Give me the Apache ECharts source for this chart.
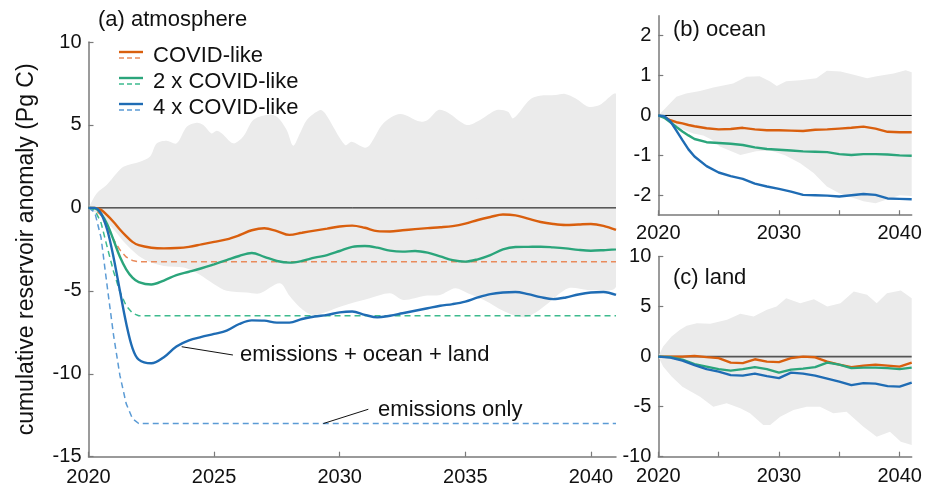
<!DOCTYPE html>
<html><head><meta charset="utf-8">
<script src="https://cdn.jsdelivr.net/npm/echarts@6/dist/echarts.min.js"></script>
<style>html,body{margin:0;padding:0;background:#fff}#c{width:932px;height:489px}</style>
</head><body><div id="c"></div>
<script>
// ---------- Panel (a) atmosphere ----------
const atmYears = [2020,2020.25,2020.5,2020.75,2021,2021.25,2021.5,2021.75,2022,2022.5,2023,2023.5,2024,2024.5,2025,2025.5,2026,2026.5,2027,2027.5,2028,2028.5,2029,2029.5,2030,2030.5,2031,2031.5,2032,2032.5,2033,2033.5,2034,2034.5,2035,2035.5,2036,2036.5,2037,2037.5,2038,2038.5,2039,2039.5,2040,2040.5,2041];
const atmCovid = [0,0,-0.12,-0.45,-0.85,-1.3,-1.7,-2.05,-2.25,-2.4,-2.44,-2.42,-2.35,-2.2,-2.05,-1.9,-1.65,-1.35,-1.23,-1.4,-1.63,-1.5,-1.37,-1.25,-1.12,-1.07,-1.2,-1.4,-1.42,-1.35,-1.28,-1.22,-1.17,-1.1,-0.95,-0.73,-0.55,-0.4,-0.45,-0.65,-0.85,-0.97,-1.03,-1.0,-0.97,-1.08,-1.33];
const atm2x = [0,-0.02,-0.35,-1.0,-1.95,-2.95,-3.7,-4.2,-4.47,-4.62,-4.38,-4.05,-3.85,-3.64,-3.4,-3.15,-2.9,-2.72,-2.95,-3.2,-3.3,-3.2,-3.0,-2.85,-2.6,-2.35,-2.3,-2.4,-2.58,-2.64,-2.6,-2.7,-2.92,-3.15,-3.24,-3.1,-2.85,-2.5,-2.36,-2.35,-2.34,-2.38,-2.44,-2.53,-2.58,-2.55,-2.5];
const atm4x = [0,0,-0.35,-1.35,-3.0,-5.0,-6.95,-8.45,-9.15,-9.37,-9.0,-8.35,-7.98,-7.78,-7.6,-7.4,-7.0,-6.78,-6.8,-6.92,-6.92,-6.7,-6.55,-6.45,-6.3,-6.25,-6.45,-6.6,-6.5,-6.35,-6.2,-6.05,-5.9,-5.8,-5.65,-5.4,-5.2,-5.1,-5.07,-5.2,-5.38,-5.5,-5.4,-5.22,-5.1,-5.07,-5.25];
// emissions only (dashed)
const emisYears = [2020,2020.25,2020.5,2020.75,2021,2021.25,2021.5,2021.75,2022,2041];
const emisCovid = [0,-0.07,-0.45,-1.2,-1.92,-2.53,-2.96,-3.17,-3.25,-3.25];
const emis2x = [0,-0.13,-0.9,-2.4,-3.85,-5.05,-5.9,-6.35,-6.5,-6.5];
const emis4x = [0,-0.26,-1.8,-4.8,-7.7,-10.1,-11.8,-12.7,-13.0,-13.0];
// spread band
const atmBandUpYears = [2020,2020.33,2020.72,2021.12,2021.39,2022.05,2022.45,2022.72,2023.11,2023.51,2023.91,2024.31,2024.57,2024.9,2025.1,2025.3,2025.77,2026.16,2026.56,2027.09,2027.5,2027.89,2028.15,2028.42,2028.69,2029.22,2029.42,2030.21,2030.48,2031.0,2031.2,2031.74,2032.4,2033.2,2033.5,2033.93,2034.3,2035.06,2035.59,2036.25,2036.7,2036.91,2037.58,2037.97,2038.6,2038.97,2039.4,2039.9,2040.35,2041];
const atmBandUp = [0,0.88,1.38,2.09,2.48,2.78,3.09,3.89,4.05,3.89,4.89,5.13,5.0,4.49,4.65,4.5,3.89,4.3,5.3,5.6,5.5,4.7,3.75,4.5,5.3,5.9,5.7,3.79,3.99,3.63,3.79,5.1,5.66,5.2,5.3,5.9,5.75,5.0,5.3,5.9,5.8,5.4,6.54,6.76,6.8,6.87,6.6,6.1,6.2,6.85];
const atmBandLoYears = [2020,2020.5,2021,2021.5,2022,2022.5,2023,2023.8,2024.4,2025,2025.5,2026.3,2026.83,2027.62,2028.0,2028.42,2028.9,2029.4,2030.14,2031.2,2032.0,2032.53,2033.4,2034.0,2034.6,2035.1,2035.8,2036.5,2037.3,2037.8,2038.3,2039.1,2039.9,2041];
const atmBandLo = [0,-0.5,-1.3,-2.2,-2.9,-3.3,-3.5,-3.6,-4.0,-4.6,-5.0,-5.1,-5.15,-4.55,-5.3,-6.0,-6.45,-6.3,-5.9,-5.45,-5.15,-5.55,-5.3,-5.25,-4.85,-5.15,-5.6,-6.2,-6.6,-6.3,-5.75,-4.85,-4.95,-4.75];
// annotations (data units)
const annotSolidLeader = [[2023.71,-8.37],[2025.75,-8.87]];
const annotSolidText = [2026.03,-8.87];
const annotEmisLeader = [[2029.35,-13.0],[2031.14,-12.14]];
const annotEmisText = [2031.53,-12.2];

// ---------- Panel (b) ocean ----------
const oceanYears = [2020,2020.5,2021,2021.5,2022,2022.5,2023,2024,2025,2026,2027,2028,2029,2030,2031,2032,2033,2034,2035,2036,2037,2038,2039,2040,2041];
const oceanCovid = [0,-0.04,-0.12,-0.17,-0.2,-0.24,-0.27,-0.32,-0.35,-0.34,-0.31,-0.35,-0.37,-0.37,-0.38,-0.39,-0.36,-0.35,-0.33,-0.31,-0.28,-0.33,-0.41,-0.42,-0.42];
const ocean2x = [0,-0.06,-0.17,-0.29,-0.4,-0.5,-0.59,-0.67,-0.69,-0.71,-0.74,-0.8,-0.84,-0.86,-0.88,-0.9,-0.91,-0.92,-0.97,-0.99,-0.97,-0.97,-0.98,-1.0,-1.01];
const ocean4x = [0,-0.02,-0.15,-0.38,-0.62,-0.85,-1.03,-1.27,-1.43,-1.52,-1.59,-1.71,-1.78,-1.84,-1.91,-1.99,-2.0,-2.01,-2.03,-2.0,-1.97,-1.99,-2.08,-2.09,-2.1];
const oceanBandUpYears = [2020,2020.7,2021.5,2022.3,2023.46,2024.56,2026.2,2027.3,2028.4,2029.27,2029.82,2030.6,2031.76,2033.1,2033.97,2035.1,2036.2,2037.3,2038.1,2039.5,2040.5,2041];
const oceanBandUp = [0,0.22,0.47,0.55,0.61,0.7,0.8,0.97,0.98,0.85,0.74,0.86,0.88,0.93,1.12,1.1,1.02,0.93,0.98,1.05,1.13,1.08];
const oceanBandLoYears = [2020,2020.7,2021.8,2022.9,2023.73,2024.4,2025.1,2026.8,2028.1,2029.3,2030.5,2031.76,2032.87,2033.97,2035,2036,2037,2038,2039,2040,2041];
const oceanBandLo = [0,-0.11,-0.32,-0.45,-0.5,-0.6,-0.78,-0.99,-0.9,-0.88,-1.0,-1.2,-1.44,-1.78,-1.95,-2.05,-2.15,-2.2,-2.1,-2.0,-2.02];

// ---------- Panel (c) land ----------
const landYears = [2020,2021,2022,2023,2024,2025,2026,2027,2028,2029,2030,2031,2032,2033,2034,2035,2036,2037,2038,2039,2040,2041];
const landCovid = [0,0,0,0.07,-0.05,-0.15,-0.6,-0.65,-0.27,-0.5,-0.55,-0.15,0,-0.07,-0.5,-0.8,-1.05,-0.9,-0.8,-0.9,-1.0,-0.6];
const land2x = [0,-0.05,-0.3,-0.75,-1.0,-1.25,-1.4,-1.25,-1.05,-1.25,-1.6,-1.3,-1.2,-1.05,-0.6,-0.8,-1.15,-1.1,-1.1,-1.15,-1.25,-1.1];
const land4x = [0,-0.1,-0.4,-0.85,-1.25,-1.5,-1.85,-1.9,-1.7,-1.95,-2.15,-1.6,-1.7,-1.9,-2.2,-2.5,-2.85,-2.65,-2.7,-2.95,-3.0,-2.6];
const landBandUpYears = [2020,2020.4,2021.1,2021.8,2022.35,2023.2,2024.3,2025.7,2026.8,2027.9,2029.0,2029.8,2030.6,2031.76,2032.9,2034.0,2035.1,2036.2,2037.3,2038.1,2038.95,2040.1,2041];
const landBandUp = [0,1.0,2.0,2.67,3.07,3.33,3.27,3.67,4.27,4.0,4.67,5.0,5.83,5.33,5.73,5.0,5.33,6.5,6.17,5.33,6.33,6.6,5.83];
const landBandLoYears = [2020,2020.4,2021.1,2022,2023.46,2024.56,2025.67,2026.8,2027.6,2028.7,2029.27,2030.1,2031.2,2032.3,2033.4,2034.5,2035.6,2037.0,2038.1,2039.2,2040.1,2041];
const landBandLo = [0,-1.0,-2.0,-3.0,-4.0,-5.0,-4.67,-5.17,-5.67,-6.83,-6.83,-6.0,-5.33,-5.0,-5.0,-5.67,-5.5,-7.0,-8.0,-7.5,-8.5,-8.83];

// ---------- labels ----------
const seriesNames = ['COVID-like','2 x COVID-like','4 x COVID-like'];
const panelTitles = ['(a) atmosphere','(b) ocean','(c) land'];
const yAxisTitle = 'cumulative reservoir anomaly (Pg C)';
const atmXTicks = [2020,2025,2030,2035,2040];
const smallXTicks = [2020,2025,2030,2035,2040];
const smallXLabels = [2020,2030,2040];
const oceanYTicks = [-2,-1,0,1,2];

// ---------- styles ----------
const FONT = 'Liberation Sans, Arial, Helvetica, sans-serif';
const solidColors = ['#D95F0E','#2BA57B','#1F6CB4'];
const dashColors = ['#E98B5C','#3DBB8E','#5B9BD5'];
const bandColor = '#EBEBEB';
const axisColor = '#7a7a7a';
const textColor = '#111';

function pairs(xs, ys){ return xs.map((x,i)=>[x, ys[i]]); }

function bandSeries(idx, upX, upY, loX, loY, smooth){
  return {
    type:'custom', xAxisIndex:idx, yAxisIndex:idx, silent:true, z:1, clip:true,
    data:[[upX[0], upY[0]]],
    renderItem:(params, api)=>{
      const up=[], lo=[];
      for(let i=0;i<upX.length;i++) up.push(api.coord([upX[i], upY[i]]));
      for(let i=0;i<loX.length;i++) lo.push(api.coord([loX[i], loY[i]]));
      const cs = params.coordSys;
      const children = [];
      if (smooth) {
        // smooth upper and lower edges separately, then close with the right edge
        children.push({type:'polygon', shape:{points:up.concat([[up[up.length-1][0], api.coord([2041,0])[1]],[up[0][0], api.coord([2020,0])[1]]]), smooth:smooth, smoothConstraint:[[cs.x,cs.y],[cs.x+cs.width,cs.y+cs.height]]}, style:{fill:bandColor}});
        children.push({type:'polygon', shape:{points:lo.concat([[lo[lo.length-1][0], api.coord([2041,0])[1]],[lo[0][0], api.coord([2020,0])[1]]]), smooth:smooth, smoothConstraint:[[cs.x,cs.y],[cs.x+cs.width,cs.y+cs.height]]}, style:{fill:bandColor}});
        return {type:'group', children:children,
          clipPath:{type:'rect', shape:{x:cs.x, y:cs.y, width:cs.width, height:cs.height}}};
      }
      const pts = up.concat(lo.reverse());
      return {type:'polygon', shape:{points:pts}, style:{fill:bandColor, stroke:null}};
    }
  };
}
function lineSeries(idx, xs, ys, color, opts){
  return Object.assign({
    type:'line', xAxisIndex:idx, yAxisIndex:idx, data:pairs(xs,ys), showSymbol:false, symbol:'none',
    silent:true, z:4, lineStyle:{color:color, width:2.4}, animation:false
  }, opts||{});
}
function zeroSeries(idx, xmin, xmax, color, width){
  return {type:'line', xAxisIndex:idx, yAxisIndex:idx, data:[[xmin,0],[xmax,0]], symbol:'none', silent:true, z:3,
    lineStyle:{color:color, width:width}, animation:false};
}
const yearFmt = v => String(Math.round(v));

function xAxisCfg(idx, ticks, labels, margin){
  return {
    gridIndex:idx, type:'value', min:2020, max:2041, interval:5,
    axisLine:{show:true, onZero:false, lineStyle:{color:axisColor, width:1.5}},
    axisTick:{show:true, inside:true, length:5, customValues:ticks, lineStyle:{color:axisColor, width:1.2}},
    axisLabel:{customValues:labels, formatter:yearFmt, fontSize:20, color:textColor, fontFamily:FONT, margin:margin},
    splitLine:{show:false}
  };
}
function yAxisCfg(idx, min, max, interval, ticks, extra){
  const cfg = {
    gridIndex:idx, type:'value', min:min, max:max, interval:interval,
    axisLine:{show:true, onZero:false, lineStyle:{color:axisColor, width:1.5}},
    axisTick:{show:true, inside:true, length:5, lineStyle:{color:axisColor, width:1.2}},
    axisLabel:{fontSize:20, color:textColor, fontFamily:FONT, margin:7},
    splitLine:{show:false}
  };
  if(ticks){ cfg.axisTick.customValues = ticks; cfg.axisLabel.customValues = ticks; }
  return Object.assign(cfg, extra||{});
}

const chart = echarts.init(document.getElementById('c'), null, {renderer:'canvas'});

const legendGraphics = [];
const legendY = [56, 82, 108];
seriesNames.forEach((name,i)=>{
  const cy = legendY[i];
  legendGraphics.push({type:'line', shape:{x1:119,y1:cy-4,x2:143,y2:cy-4}, style:{stroke:solidColors[i], lineWidth:2.4}});
  legendGraphics.push({type:'line', shape:{x1:119,y1:cy+2,x2:143,y2:cy+2}, style:{stroke:dashColors[i], lineWidth:1.5, lineDash:[5,3]}});
  legendGraphics.push({type:'text', x:153, y:cy, style:{text:name, font:'22px '+FONT, fill:textColor, textVerticalAlign:'middle'}});
});
const titleGraphics = [
  {type:'text', x:98, y:20, style:{text:panelTitles[0], font:'22px '+FONT, fill:textColor, textVerticalAlign:'middle'}},
  {type:'text', x:673, y:30, style:{text:panelTitles[1], font:'22px '+FONT, fill:textColor, textVerticalAlign:'middle'}},
  {type:'text', x:673, y:278, style:{text:panelTitles[2], font:'22px '+FONT, fill:textColor, textVerticalAlign:'middle'}}
];

const annotStyle = {color:'#111', width:1, type:'solid'};
const series = [
  bandSeries(0, atmBandUpYears, atmBandUp, atmBandLoYears, atmBandLo, 0.3),
  zeroSeries(0, 2020, 2041, '#000', 1),
  lineSeries(0, emisYears, emisCovid, dashColors[0], {z:3, lineStyle:{color:dashColors[0], width:1.5, type:[6,4]}}),
  lineSeries(0, emisYears, emis2x, dashColors[1], {z:3, lineStyle:{color:dashColors[1], width:1.5, type:[6,4]}}),
  lineSeries(0, emisYears, emis4x, dashColors[2], {z:3, lineStyle:{color:dashColors[2], width:1.5, type:[6,4]},
    markLine:{silent:true, symbol:'none', animation:false, lineStyle:annotStyle, label:{show:false},
      data:[[{coord:annotEmisLeader[0]},{coord:annotEmisLeader[1]}]]},
    markPoint:{silent:true, animation:false, symbol:'circle', symbolSize:0,
      data:[{coord:annotEmisText, label:{show:true, position:'right', distance:0, formatter:'emissions only', fontSize:22, color:textColor, fontFamily:FONT}}]}
  }),
  lineSeries(0, atmYears, atmCovid, solidColors[0], {smooth:0.35}),
  lineSeries(0, atmYears, atm2x, solidColors[1], {smooth:0.35}),
  lineSeries(0, atmYears, atm4x, solidColors[2], {smooth:0.35,
    markLine:{silent:true, symbol:'none', animation:false, lineStyle:annotStyle, label:{show:false},
      data:[[{coord:annotSolidLeader[0]},{coord:annotSolidLeader[1]}]]},
    markPoint:{silent:true, animation:false, symbol:'circle', symbolSize:0,
      data:[{coord:annotSolidText, label:{show:true, position:'right', distance:0, formatter:'emissions + ocean + land', fontSize:22, color:textColor, fontFamily:FONT}}]}
  }),
  bandSeries(1, oceanBandUpYears, oceanBandUp, oceanBandLoYears, oceanBandLo, 0),
  zeroSeries(1, 2020, 2041, '#000', 1),
  lineSeries(1, oceanYears, oceanCovid, solidColors[0]),
  lineSeries(1, oceanYears, ocean2x, solidColors[1]),
  lineSeries(1, oceanYears, ocean4x, solidColors[2]),
  bandSeries(2, landBandUpYears, landBandUp, landBandLoYears, landBandLo, 0),
  zeroSeries(2, 2020, 2041, '#555', 1.8),
  lineSeries(2, landYears, landCovid, solidColors[0]),
  lineSeries(2, landYears, land2x, solidColors[1]),
  lineSeries(2, landYears, land4x, solidColors[2])
];

chart.setOption({
  animation:false,
  backgroundColor:'#fff',
  textStyle:{fontFamily:FONT},
  grid:[
    {left:88.5, top:42, right:316, bottom:32.3},
    {left:658.3, top:15.7, right:20.3, height:199.5},
    {left:658.3, top:256.5, right:20.3, height:200.2}
  ],
  xAxis:[
    xAxisCfg(0, atmXTicks, atmXTicks, 11),
    xAxisCfg(1, smallXTicks, smallXLabels, 8),
    xAxisCfg(2, smallXTicks, smallXLabels, 10)
  ],
  yAxis:[
    yAxisCfg(0, -15, 10, 5, null, {name:yAxisTitle, nameLocation:'middle', nameGap:50,
      nameTextStyle:{fontSize:23, color:textColor, fontFamily:FONT}}),
    yAxisCfg(1, -2.5, 2.5, 0.5, oceanYTicks),
    yAxisCfg(2, -10, 10, 5, null)
  ],
  graphic: legendGraphics.concat(titleGraphics),
  series: series
});
</script></body></html>
